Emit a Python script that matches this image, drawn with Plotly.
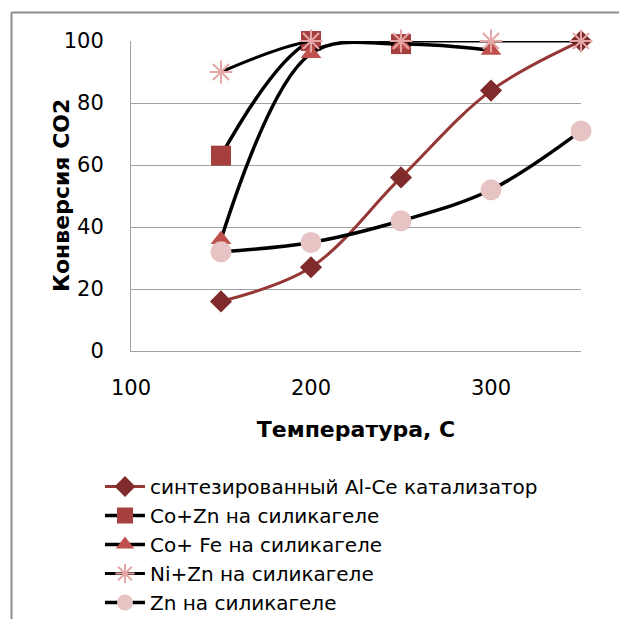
import plotly.graph_objects as go

temps = [150, 200, 250, 300, 350]
al_ce = [16, 27, 56, 84, 100]
co_zn = [63, 100, 99, None, None]
co_fe = [36, 96, 99, 97, None]
ni_zn = [90, 100, 100, 100, 100]
zn = [32, 35, 42, 52, 71]

names = ["синтезированный Al-Ce катализатор", "Co+Zn на силикагеле",
         "Co+ Fe на силикагеле", "Ni+Zn на силикагеле", "Zn на силикагеле"]
x_title = "Температура, С"
y_title = "Конверсия CO2"

FONT = "DejaVu Sans"
fig = go.Figure()
fig.add_trace(go.Scatter(x=temps, y=al_ce, name=names[0], mode="lines+markers",
                         line=dict(color="#953735", width=3, shape="spline"),
                         marker=dict(symbol="diamond", size=17, color="#7F2B2B")))
fig.add_trace(go.Scatter(x=temps, y=co_zn, name=names[1], mode="lines+markers",
                         line=dict(color="black", width=3.5, shape="spline"),
                         marker=dict(symbol="square", size=20, color="#A5403E")))
fig.add_trace(go.Scatter(x=temps, y=co_fe, name=names[2], mode="lines+markers",
                         line=dict(color="black", width=3.5, shape="spline"),
                         marker=dict(symbol="triangle-up", size=18, color="#C0504D")))
fig.add_trace(go.Scatter(x=temps, y=ni_zn, name=names[3], mode="lines+markers",
                         line=dict(color="black", width=3, shape="spline"),
                         marker=dict(symbol="asterisk-open", size=19, color="#E6A6A5",
                                     line=dict(color="#E6A6A5", width=2))))
fig.add_trace(go.Scatter(x=temps, y=zn, name=names[4], mode="lines+markers",
                         line=dict(color="black", width=3.5, shape="spline"),
                         marker=dict(symbol="circle", size=21, color="#E6C4C3")))

OFF = 8  # page body margin
W, H = 627 - OFF, 619 - OFF
L, R, T, B = 131 - OFF, 581 - OFF, 41 - OFF, 351 - OFF
pw, ph = R - L, B - T

def px(x):
    return (x - OFF - L) / pw

def py(y):
    return (B - (y - OFF)) / ph

fig.update_layout(
    width=W, height=H,
    margin=dict(l=L, r=W - R, t=T, b=H - B, autoexpand=False),
    paper_bgcolor="white", plot_bgcolor="white",
    font=dict(family=FONT, size=20, color="black"),
    showlegend=True,
    legend=dict(x=px(100), y=py(467), xanchor="left", yanchor="top",
                font=dict(family=FONT, size=20), tracegroupgap=0,
                itemwidth=40, bgcolor="rgba(0,0,0,0)"),
    xaxis=dict(range=[100, 350], tickvals=[100, 200, 300], showgrid=False,
               zeroline=False, showline=True, linecolor="#A0A0A0", linewidth=1,
               ticks="", ticklabelstandoff=18, tickfont=dict(size=21),
               title=dict(text="<b>" + x_title + "</b>", font=dict(size=22), standoff=22)),
    yaxis=dict(range=[0, 100], tickvals=[0, 20, 40, 60, 80, 100], showgrid=True,
               gridcolor="#A0A0A0", gridwidth=1, zeroline=False, showline=True,
               linecolor="#A0A0A0", linewidth=1, ticks="", ticklabelstandoff=22,
               tickfont=dict(size=21)),
    annotations=[
        dict(text="<b>" + y_title + "</b>", xref="paper", yref="paper",
             x=px(61), y=py(196), xanchor="center", yanchor="middle",
             textangle=-90, showarrow=False, font=dict(size=22)),
    ],
    shapes=[
        dict(type="line", xref="paper", yref="paper", x0=px(11.5), x1=px(630), y0=py(12.5), y1=py(12.5),
             line=dict(color="#8C8C8C", width=2)),
        dict(type="line", xref="paper", yref="paper", x0=px(11.5), x1=px(11.5), y0=py(12.5), y1=py(625),
             line=dict(color="#8C8C8C", width=2)),
    ],
)
fig.update_traces(cliponaxis=False)
fig.write_html("out.html")
